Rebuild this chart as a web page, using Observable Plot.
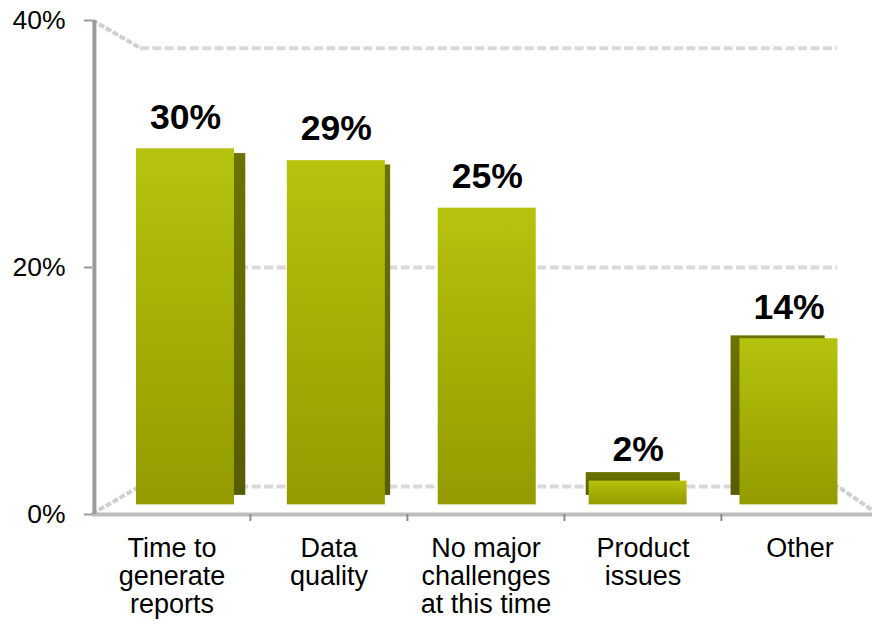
<!DOCTYPE html>
<html>
<head>
<meta charset="utf-8">
<script src="https://cdn.jsdelivr.net/npm/d3@7"></script>
<script src="https://cdn.jsdelivr.net/npm/@observablehq/plot@0.6"></script>
<style>
  html, body { margin: 0; padding: 0; background: #fff; }
  #chart { width: 872px; height: 627px; overflow: hidden; }
</style>
</head>
<body>
<div id="chart"></div>
<script>
// ---- data ----
const categories = ["Time to\ngenerate\nreports", "Data\nquality", "No major\nchallenges\nat this time", "Product\nissues", "Other"];
const values = [30, 29, 25, 2, 14];
const valueLabels = ["30%", "29%", "25%", "2%", "14%"];
const yTicks = [0, 20, 40];
const yTickLabels = ["0%", "20%", "40%"];

const data = categories.map((c, i) => ({category: c, value: values[i], label: valueLabels[i]}));

// ---- layout / style ----
const W = 872, H = 627;
const X_RANGE = [92, 878];
const step = (X_RANGE[1] - X_RANGE[0]) / categories.length;
const VX = 517;          // vanishing point (px, horizontal)
const HORIZON = 20;      // eye level (value)
const FRONT = 0.961, BACK = 0.9226, WALL = 0.887;
const NS = "http://www.w3.org/2000/svg";
const FONT = '"Liberation Sans", Arial, Helvetica, sans-serif';

const svg = Plot.plot({
  width: W, height: H,
  marginLeft: 92, marginRight: 0, marginTop: 20, marginBottom: 113,
  style: {fontFamily: FONT, color: "#000", background: "#fff", overflow: "visible"},
  x: {domain: categories, range: X_RANGE, padding: 0, label: null},
  y: {domain: [0, 40], range: [514, 20], label: null},
  marks: [
    Plot.ruleY(yTicks, {stroke: "#d9d9d9", strokeWidth: 4.5, strokeDasharray: "10,4", insetRight: -6, ariaDescription: "wall"}),
    Plot.barY(data, {x: "category", y: "value", fill: "url(#barBack)", insetLeft: 27.5, insetRight: 27.5, ariaDescription: "back"}),
    Plot.barY(data, {x: "category", y: "value", fill: "url(#barFront)", insetLeft: 27.5, insetRight: 27.5, ariaDescription: "front"}),
    Plot.text(data, {x: "category", y: "value", text: "label", dy: -21, lineAnchor: "bottom", fontSize: 37, fontWeight: "bold", fill: "#000", ariaDescription: "values"}),
    Plot.ruleY([0], {stroke: "#bdbdbd", strokeWidth: 4}),
    Plot.ruleX([categories[0]], {dx: -step / 2 + 1, stroke: "#9b9b9b", strokeWidth: 4}),
    Plot.axisY({ticks: yTicks, tickFormat: d => yTickLabels[yTicks.indexOf(d)], tickSize: 8, tickPadding: 19, fontSize: 26.5, stroke: "#9b9b9b", strokeWidth: 2, label: null}),
    Plot.axisX({tickSize: 0, tickPadding: 22, fontSize: 27, lineHeight: 1.05, label: null}),
    Plot.axisX({ticks: categories.slice(1), tickSize: 7, tickFormat: () => "", dx: -step / 2, stroke: "#8c8c8c", strokeWidth: 2, label: null})
  ]
});

// gradients
const defs = d3.select(svg).insert("defs", ":first-child");
function grad(id, stops) {
  const g = defs.append("linearGradient").attr("id", id)
    .attr("x1", 0).attr("y1", 0).attr("x2", 0).attr("y2", 1);
  stops.forEach(([o, c]) => g.append("stop").attr("offset", o).attr("stop-color", c));
}
grad("barFront", [[0, "#b6c30e"], [0.5, "#a4ae05"], [1, "#939b00"]]);
grad("barBack", [[0, "#6c7302"], [1, "#565c00"]]);

// perspective: scale groups toward the vanishing point
const yS = svg.scale("y");
const xS = svg.scale("x");
const py = yS.apply(HORIZON);
function wrap(desc, k) {
  const el = svg.querySelector(`g[aria-description="${desc}"]`);
  if (!el) return null;
  const g = document.createElementNS(NS, "g");
  g.setAttribute("transform", `matrix(${k} 0 0 ${k} ${VX * (1 - k)} ${py * (1 - k)})`);
  el.parentNode.insertBefore(g, el);
  g.appendChild(el);
  return g;
}
const wallG = wrap("wall", WALL);
wrap("back", BACK);
wrap("front", FRONT);
wrap("values", FRONT);

// wall / floor edges joining front plane to back wall
if (wallG) {
  const x0 = xS.range[0], x1 = xS.range[1];
  const edges = [[x0, yS.apply(40)], [x0, yS.apply(0)], [x1, yS.apply(0)]];
  const edgeG = document.createElementNS(NS, "g");
  wallG.parentNode.insertBefore(edgeG, wallG.nextSibling);
  d3.select(edgeG).selectAll("line").data(edges).join("line")
    .attr("x1", d => d[0]).attr("y1", d => d[1])
    .attr("x2", d => VX + (d[0] - VX) * WALL).attr("y2", d => py + (d[1] - py) * WALL)
    .attr("stroke", "#cfcfcf").attr("stroke-width", 4).attr("stroke-dasharray", "6,2");
}

document.getElementById("chart").appendChild(svg);
</script>
</body>
</html>
